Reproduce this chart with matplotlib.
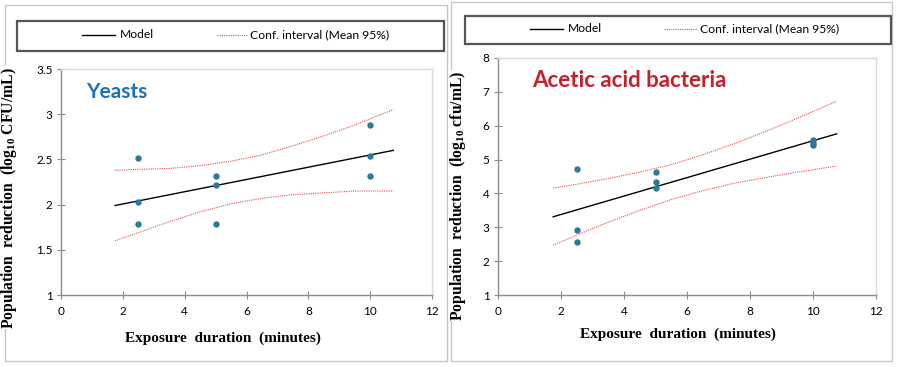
import matplotlib
matplotlib.use("Agg")
import matplotlib.pyplot as plt
from matplotlib.patches import Rectangle
from matplotlib.lines import Line2D

# ---- data ----
x_obs = [2.5, 2.5, 2.5, 5, 5, 5, 10, 10, 10]
yeast_obs = [2.51, 2.03, 1.78, 2.32, 2.22, 1.79, 2.88, 2.54, 2.32]
aab_obs = [4.71, 2.92, 2.56, 4.62, 4.35, 4.17, 5.58, 5.50, 5.42]

x_model = [1.75, 10.75]
yeast_model = [1.99, 2.60]
aab_model = [3.31, 5.76]

x_band = [1.75, 2.5, 3.5, 4.5, 5.5, 6.5, 7.5, 8.5, 9.5, 10, 10.75]
yeast_upper = [2.38, 2.39, 2.40, 2.43, 2.48, 2.55, 2.65, 2.76, 2.88, 2.95, 3.05]
yeast_lower = [1.60, 1.69, 1.81, 1.92, 2.01, 2.07, 2.11, 2.13, 2.15, 2.15, 2.15]
aab_upper = [4.16, 4.27, 4.44, 4.63, 4.85, 5.14, 5.47, 5.83, 6.22, 6.42, 6.72]
aab_lower = [2.47, 2.77, 3.15, 3.50, 3.82, 4.08, 4.30, 4.47, 4.63, 4.70, 4.81]

x_ticks = [0, 2, 4, 6, 8, 10, 12]
yeast_yticks = [1, 1.5, 2, 2.5, 3, 3.5]
aab_yticks = [1, 2, 3, 4, 5, 6, 7, 8]

legend_labels = ["Model", "Conf. interval (Mean 95%)"]

plt.rcParams["font.family"] = ["Lato", "DejaVu Sans"]
plt.rcParams["mathtext.fontset"] = "custom"
plt.rcParams["mathtext.rm"] = "Liberation Serif:bold"
plt.rcParams["mathtext.it"] = "Liberation Serif:bold"
plt.rcParams["mathtext.bf"] = "Liberation Serif:bold"

W, H = 899, 367
fig = plt.figure(figsize=(W / 100, H / 100), dpi=100)


def fx(px):
    return px / W


def fy(py):
    return 1 - py / H


def axes_box(l, t, r, b):
    return [fx(l), fy(b), fx(r) - fx(l), fy(t) - fy(b)]


dot_color = "#2B7A94"
band_color = "#E05050"
axis_grey = "#8C8C8C"

panels = [
    dict(box=axes_box(61, 69, 432, 295), y=yeast_obs, model=yeast_model,
         up=yeast_upper, lo=yeast_lower, ylim=(1, 3.5), yticks=yeast_yticks,
         ylabel="Population  reduction  (log$_{10}$ CFU/mL)",
         title="Yeasts", tsize=15, tcolor="#1C72B5", tpos=(0.067, 0.872),
         ylab_pos=(-0.113, 0.43), xlab_pos=(0.437, -0.162),
         frame=(5, 5, 447, 361), legbox=(17, 21, 444, 51),
         leg=[(82, 115, 120), (217, 247, 250)], legy=35),
    dict(box=axes_box(498, 58, 876, 295), y=aab_obs, model=aab_model,
         up=aab_upper, lo=aab_lower, ylim=(1, 8), yticks=aab_yticks,
         ylabel="Population  reduction  (log$_{10}$ cfu/mL)",
         title="Acetic acid bacteria", tsize=16, tcolor="#C8202A", tpos=(0.09, 0.878),
         ylab_pos=(-0.079, 0.42), xlab_pos=(0.476, -0.137),
         frame=(451, 2, 892, 361), legbox=(465, 16, 891, 44),
         leg=[(530, 563, 568), (664, 697, 700)], legy=29),
]

for p in panels:
    # outer panel frame
    l, t, r, b = p["frame"]
    fig.add_artist(Rectangle((fx(l), fy(b)), fx(r) - fx(l), fy(t) - fy(b),
                             transform=fig.transFigure, fill=False,
                             edgecolor="#C8C8C8", lw=1, zorder=-1))

    ax = fig.add_axes(p["box"])
    ax.plot(x_obs, p["y"], "o", color=dot_color, ms=3.6, zorder=3)
    ax.plot(x_model, p["model"], color="black", lw=1.0)
    ax.plot(x_band, p["up"], color=band_color, lw=0.8, ls=(0, (1, 1)))
    ax.plot(x_band, p["lo"], color=band_color, lw=0.8, ls=(0, (1, 1)))

    ax.set_xlim(0, 12)
    ax.set_ylim(*p["ylim"])
    ax.set_xticks(x_ticks)
    ax.set_yticks(p["yticks"])
    ax.set_xticklabels([str(v) for v in x_ticks])
    ax.set_yticklabels([f"{v:g}" for v in p["yticks"]])
    ax.tick_params(direction="inout", length=6, width=0.8, color=axis_grey,
                   labelsize=8.5, labelcolor="black", pad=3)
    ax.tick_params(axis="x", pad=5)
    for s in ["left", "bottom"]:
        ax.spines[s].set_color(axis_grey)
        ax.spines[s].set_linewidth(1.0)
    for s in ["top", "right"]:
        ax.spines[s].set_color("#D9D9D9")
        ax.spines[s].set_linewidth(1.0)

    ax.text(*p["tpos"], p["title"], transform=ax.transAxes, color=p["tcolor"],
            fontsize=p["tsize"], fontweight="bold", va="baseline", ha="left")

    ax.set_xlabel("Exposure  duration  (minutes)", family="Liberation Serif",
                  fontweight="bold", fontsize=11)
    ax.xaxis.set_label_coords(*p["xlab_pos"])
    ax.set_ylabel(p["ylabel"], family="Liberation Serif", fontweight="bold",
                  fontsize=11.3, bbox=dict(facecolor="white", edgecolor="none", pad=0.5))
    ax.yaxis.set_label_coords(*p["ylab_pos"])

    # legend box drawn above the plot
    l, t, r, b = p["legbox"]
    fig.add_artist(Rectangle((fx(l), fy(b)), fx(r) - fx(l), fy(t) - fy(b),
                             transform=fig.transFigure, fill=True, facecolor="white",
                             edgecolor="#555555", lw=1.6, zorder=2))
    styles = [dict(color="black", lw=1.0), dict(color=band_color, lw=0.8, ls=(0, (1, 1)))]
    for (x0, x1, xt), st, lab in zip(p["leg"], styles, legend_labels):
        fig.add_artist(Line2D([fx(x0), fx(x1)], [fy(p["legy"])] * 2,
                              transform=fig.transFigure, zorder=3, **st))
        fig.text(fx(xt), fy(p["legy"]), lab, fontsize=8.7, va="center", ha="left",
                 zorder=3)

fig.savefig("out.png", dpi=100)
